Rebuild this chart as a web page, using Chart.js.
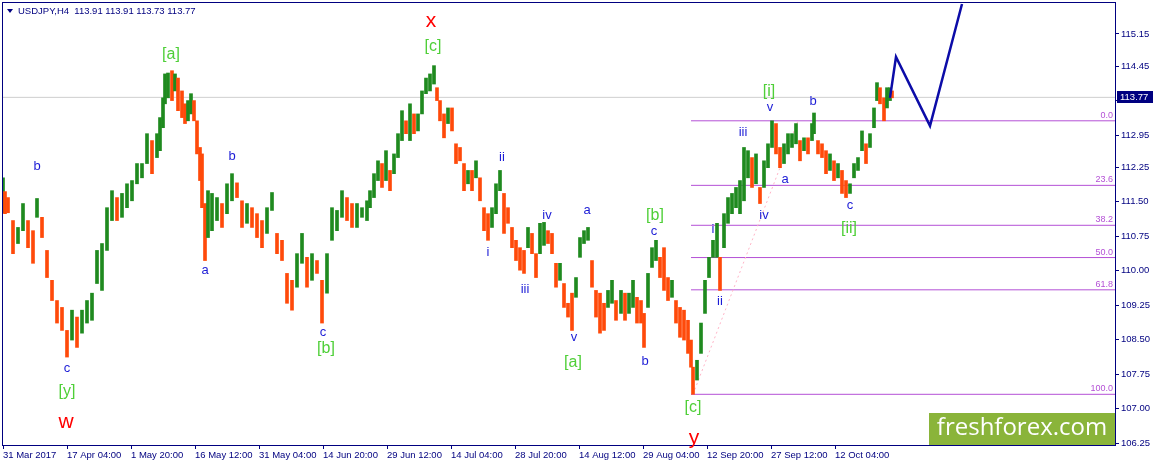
<!DOCTYPE html>
<html><head><meta charset="utf-8">
<script src="https://cdn.jsdelivr.net/npm/chart.js@4.4.0/dist/chart.umd.min.js"></script>
<style>html,body{margin:0;padding:0;background:#fff;overflow:hidden}</style>
</head><body>
<canvas id="c" width="1155" height="466"></canvas>
<script>
// ---------- DATA ----------
const symbolTitle = 'USDJPY,H4  113.91 113.91 113.73 113.77';
const timeLabels = ['31 Mar 2017','17 Apr 04:00','1 May 20:00','16 May 12:00','31 May 04:00','14 Jun 20:00','29 Jun 12:00','14 Jul 04:00','28 Jul 20:00','14 Aug 12:00','29 Aug 04:00','12 Sep 20:00','27 Sep 12:00','12 Oct 04:00'];
const barsPerLabel = 64;
const totalBars = 1112;
const yTicks = [106.25,107.00,107.75,108.50,109.25,110.00,110.75,111.50,112.25,112.95,113.70,114.45,115.15];
const yMin = 106.207, yMax = 115.823;

const barIndex = [
0,2,5,10,15,20,25,30,34,39,44,49,54,59,64,69,74,79,84,89,
94,99,104,109,114,119,124,129,134,139,144,149,154,157,160,162,165,169,172,175,
179,182,185,188,191,194,197,199,202,205,209,214,219,224,229,234,239,244,249,254,
259,264,269,274,279,284,289,294,299,304,309,314,319,324,329,334,339,344,349,354,
359,364,367,371,375,379,383,387,391,395,399,403,407,411,415,419,423,427,431,434,
437,441,445,449,453,457,461,465,469,473,477,481,485,489,493,497,501,505,509,513,
517,521,525,529,533,537,541,545,549,553,557,561,565,569,573,577,581,585,589,593,
597,601,605,609,613,618,622,626,630,634,638,641,645,649,653,657,661,665,669,673,
677,681,685,688,690,694,698,702,706,710,714,717,721,725,729,733,737,741,745,749,
753,757,761,765,769,773,777,781,785,789,793,797,801,805,809,811,815,819,823,827,
831,835,839,843,847,851,855,859,863,867,871,874,877,881,884,887,889];
const barHigh = [
112.02,111.72,111.59,111.09,110.94,111.46,111.09,110.87,111.57,111.16,110.44,109.79,109.35,109.20,108.70,109.14,108.99,109.14,109.35,109.51,
110.44,110.59,111.37,111.74,111.59,111.68,111.89,111.96,112.33,112.33,112.98,112.83,112.98,113.33,113.76,114.28,114.30,114.35,114.28,114.19,
113.91,113.63,113.70,113.85,113.70,113.26,112.68,112.54,111.46,111.74,111.68,111.59,111.46,111.89,112.11,111.91,111.52,111.46,111.37,111.24,
111.09,111.37,111.70,110.81,110.66,109.94,109.79,110.37,110.81,110.29,110.37,110.22,109.79,110.37,111.37,111.31,111.74,111.59,111.46,111.46,
111.37,111.52,111.74,112.11,112.39,112.33,112.61,112.18,112.54,112.98,113.48,113.26,113.63,113.41,113.41,113.91,114.19,114.28,114.46,113.98,
113.70,113.41,113.54,113.54,112.76,112.68,112.33,112.18,112.18,112.39,112.02,111.37,111.24,111.37,111.89,112.18,111.68,111.37,110.94,110.66,
110.50,110.44,110.94,110.81,110.37,111.03,111.05,110.87,110.81,110.16,110.16,109.72,109.29,109.51,109.85,110.72,110.87,110.94,110.22,109.57,
109.51,109.29,109.57,109.79,109.35,109.57,109.51,109.51,109.79,109.42,109.35,109.07,109.94,110.50,110.66,110.29,110.50,109.85,109.79,109.35,
109.20,109.14,108.92,108.49,107.90,108.05,108.86,109.79,110.29,110.66,111.03,110.29,111.24,111.59,111.68,111.81,111.96,112.68,112.61,112.46,
112.54,111.81,112.39,112.76,113.26,113.20,112.68,112.76,112.98,112.98,113.20,112.83,112.89,112.89,113.20,113.43,112.83,112.76,112.61,112.54,
112.39,112.33,112.18,111.96,111.89,112.33,112.46,113.04,112.76,112.98,113.54,114.09,113.98,113.76,113.98,113.98,113.91];
const barLow = [
111.26,111.24,111.26,110.37,110.59,110.87,110.50,110.16,111.16,110.72,109.85,109.35,108.86,108.70,108.12,108.49,108.33,108.64,108.86,108.92,
109.72,109.57,110.44,111.09,111.09,111.16,111.37,111.52,111.89,112.02,112.33,112.11,112.46,112.61,113.11,113.63,113.76,113.70,113.91,113.48,
113.33,113.20,113.26,113.41,113.26,112.54,111.96,111.37,110.22,110.72,110.87,111.09,110.94,111.24,111.52,111.59,110.94,111.03,110.94,110.72,
110.50,110.81,111.31,110.37,110.22,109.29,109.14,109.64,110.16,109.64,109.79,109.94,108.86,109.51,110.66,110.87,111.16,111.09,110.94,110.94,
111.16,111.09,111.37,111.59,111.96,111.81,111.96,111.74,112.11,112.46,112.83,112.98,112.83,112.98,113.04,113.41,113.85,113.91,114.06,113.70,
113.26,112.89,113.20,113.04,112.33,112.39,111.74,111.89,111.74,112.02,111.52,110.87,110.66,110.94,111.24,111.74,110.81,111.03,110.50,110.22,
110.01,109.94,110.50,110.37,109.85,110.37,110.55,110.59,110.37,109.64,109.79,109.20,108.99,108.70,109.42,110.29,110.59,110.66,109.64,108.99,
108.64,108.70,109.20,109.29,108.92,109.07,108.92,109.07,109.20,108.86,108.86,108.33,109.20,110.07,110.22,109.85,109.57,109.35,109.42,108.86,
108.55,108.49,108.20,107.90,107.31,107.62,108.20,109.07,109.85,110.29,110.29,109.57,110.50,111.03,111.24,111.37,111.24,111.52,112.02,111.81,
111.89,111.46,111.81,112.24,112.68,112.54,112.24,112.33,112.54,112.68,112.76,112.39,112.61,112.54,112.83,112.98,112.54,112.46,112.11,112.18,
111.96,112.02,111.68,111.59,111.68,112.02,112.18,112.61,112.33,112.68,113.11,113.70,113.63,113.26,113.54,113.70,113.76];

const lastPrice = 113.77;
const fibHigh = 113.26, fibLow = 107.31;
const fibLowBar = 690, fibHighBar = 795, fibLineStartBar = 688;
const fibLevels = [0, 23.6, 38.2, 50, 61.8, 100];

const projBars = [887, 893, 927, 959];
const projPrices = [113.76, 114.65, 113.15, 115.80];

const waveText  = ['x','w','y','[a]','[c]','[b]','[y]','[a]','[b]','[c]','[i]','[ii]',
  'b','c','a','b','c','ii','i','iii','iv','v','a','b','c','i','ii','iii','v','iv','a','b','c'];
const waveBar   = [428,63,691,168,430,323,64,570,652,690,766,846,
  34,64,202,229,320,499,485,522,544,571,584,642,651,710,717,740,767,761,782,810,847];
const wavePrice = [115.43,106.71,106.36,114.69,114.87,108.31,107.36,108.01,111.20,107.01,113.89,110.92,
  112.26,107.88,110.00,112.48,108.66,112.46,110.39,109.59,111.20,108.55,111.31,108.03,110.85,110.89,109.33,113.00,113.56,111.20,111.98,113.69,111.41];
const waveDegree = ['red','red','red','green','green','green','green','green','green','green','green','green',
  'blue','blue','blue','blue','blue','blue','blue','blue','blue','blue','blue','blue','blue','blue','blue','blue','blue','blue','blue','blue','blue'];

// ---------- STYLE ----------
const NAVY = '#000080';
const UP = '#1f8a1f', DOWN = '#ff4a0a';
const FIB = '#b450d6';
const FONT = "'Liberation Sans', Arial, sans-serif";
const waveStyle = {
  red:   {color:'#ff0000', size:21},
  green: {color:'#4fcf38', size:16},
  blue:  {color:'#1c1cd6', size:13}
};

const barColors = barHigh.map((h, i) => {
  const mid = (h + barLow[i]) / 2;
  const prev = i ? (barHigh[i-1] + barLow[i-1]) / 2 : mid;
  return mid >= prev ? UP : DOWN;
});

const datasets = [];
datasets.push({
  type:'bar', order:2,
  data: barIndex.map((b, i) => ({x:b, y:[barLow[i], barHigh[i]]})),
  backgroundColor: barColors, borderWidth:0, barThickness:3
});
datasets.push({
  type:'line', order:5, data:[{x:0,y:lastPrice},{x:totalBars,y:lastPrice}],
  borderColor:'#cfcfcf', borderWidth:1, pointRadius:0
});
fibLevels.forEach(l => {
  const p = fibHigh - (fibHigh - fibLow) * l / 100;
  datasets.push({type:'line', order:4, data:[{x:fibLineStartBar,y:p},{x:totalBars,y:p}],
    borderColor:FIB, borderWidth:1, pointRadius:0});
});
datasets.push({type:'line', order:3, data:[{x:fibLowBar,y:fibLow},{x:fibHighBar,y:fibHigh}],
  borderColor:'#ffb3c6', borderWidth:1, borderDash:[2,3], pointRadius:0});
datasets.push({type:'line', order:0, data: projBars.map((b,i)=>({x:b,y:projPrices[i]})),
  borderColor:'#0c0ca8', borderWidth:2.5, pointRadius:0, borderJoinStyle:'miter'});

const overlay = {
  id:'overlay',
  afterDraw(chart) {
    const ctx = chart.ctx, ca = chart.chartArea;
    const xs = chart.scales.x, ys = chart.scales.y;
    ctx.save();
    // frame
    ctx.strokeStyle = NAVY; ctx.lineWidth = 1;
    ctx.strokeRect(Math.round(ca.left) - 0.5, Math.round(ca.top) - 0.5,
      Math.round(ca.right - ca.left) + 1, Math.round(ca.bottom - ca.top) + 1);
    // header
    ctx.fillStyle = NAVY;
    ctx.beginPath(); ctx.moveTo(7, 9); ctx.lineTo(13, 9); ctx.lineTo(10, 13); ctx.closePath(); ctx.fill();
    ctx.font = '9.5px ' + FONT; ctx.textAlign = 'left'; ctx.textBaseline = 'middle';
    ctx.fillText(symbolTitle, 18, 11);
    // fib level labels
    ctx.fillStyle = FIB; ctx.font = '9px ' + FONT; ctx.textAlign = 'right'; ctx.textBaseline = 'bottom';
    fibLevels.forEach(l => {
      const p = fibHigh - (fibHigh - fibLow) * l / 100;
      ctx.fillText(l.toFixed(1), ca.right - 2, ys.getPixelForValue(p) - 1);
    });
    // wave labels
    ctx.textAlign = 'center'; ctx.textBaseline = 'middle';
    waveText.forEach((t, i) => {
      const st = waveStyle[waveDegree[i]];
      ctx.fillStyle = st.color; ctx.font = st.size + 'px ' + FONT;
      ctx.fillText(t, xs.getPixelForValue(waveBar[i]), ys.getPixelForValue(wavePrice[i]));
    });
    // price tag
    const py = Math.round(ys.getPixelForValue(lastPrice));
    ctx.fillStyle = NAVY; ctx.fillRect(ca.right + 2, py - 6, 36, 12);
    ctx.fillStyle = '#ffffff'; ctx.font = '9.5px ' + FONT; ctx.textAlign = 'left';
    ctx.fillText(lastPrice.toFixed(2), ca.right + 5, py + 0.5);
    // watermark
    ctx.fillStyle = '#8ab43a'; ctx.fillRect(929, 413, ca.right - 929, ca.bottom - 413);
    ctx.fillStyle = '#ffffff'; ctx.font = "24px 'Open Sans', sans-serif"; ctx.textAlign = 'center';
    ctx.fillText('freshforex.com', (929 + ca.right) / 2, 428);
    ctx.restore();
  }
};

new Chart(document.getElementById('c'), {
  type:'bar',
  data:{datasets},
  options:{
    responsive:false, animation:false, devicePixelRatio:1,
    layout:{padding:{left:3, top:3, right:0, bottom:0}},
    plugins:{legend:{display:false}, tooltip:{enabled:false}},
    scales:{
      x:{type:'linear', min:0, max:totalBars, offset:false,
        afterBuildTicks: s => { s.ticks = timeLabels.map((_, i) => ({value:i*barsPerLabel})); },
        afterFit: s => { s.height = 21; s.paddingLeft = 0; s.paddingRight = 0; },
        ticks:{color:NAVY, font:{family:FONT, size:9.5}, align:'start', maxRotation:0, autoSkip:false, padding:1,
          callback:(v, i) => timeLabels[i]},
        grid:{drawOnChartArea:false, drawTicks:true, tickLength:4, color:NAVY, offset:false},
        border:{color:NAVY}
      },
      y:{type:'linear', position:'right', min:yMin, max:yMax,
        afterBuildTicks: s => { s.ticks = yTicks.map(v => ({value:v})); },
        afterFit: s => { s.width = 40; s.paddingTop = 0; s.paddingBottom = 0; },
        ticks:{color:NAVY, font:{family:FONT, size:9.5}, padding:2, callback:v => v.toFixed(2)},
        grid:{drawOnChartArea:false, drawTicks:true, tickLength:4, color:NAVY},
        border:{color:NAVY}
      }
    }
  },
  plugins:[overlay]
});
</script>
</body></html>
